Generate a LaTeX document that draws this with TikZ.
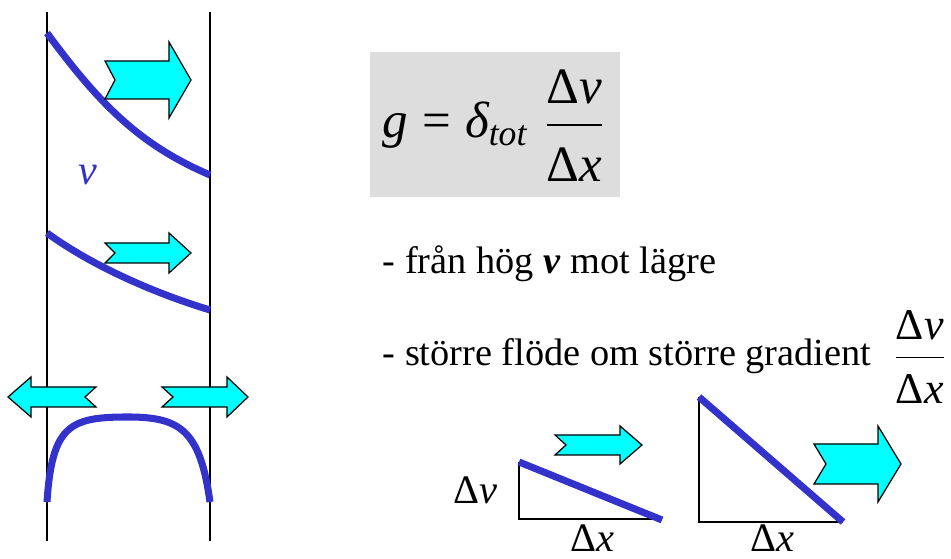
\documentclass[tikz,border=0pt]{standalone}
\usepackage{amsmath}
\usepackage{fontspec}
\setmainfont{Liberation Serif}
\usetikzlibrary{positioning}
\definecolor{curveblue}{RGB}{51,51,204}
\definecolor{flowcyan}{RGB}{0,255,255}
\definecolor{boxgray}{RGB}{221,221,221}
\tikzset{
  wallline/.style={line width=0.45pt, draw=black},
  vcurve/.style={line width=2pt, draw=curveblue},
  flowarrow/.style={draw=black, line width=0.35pt, fill=flowcyan, line join=miter},
  slidetext/.style={font=\fontsize{10.9}{13}\selectfont, inner sep=0pt, anchor=base west},
  deltalabel/.style={font=\fontsize{11.5}{13}\selectfont, inner sep=0pt},
  eqbox/.style={fill=boxgray, draw=none},
}
% notched block arrow: tail, notch, head base, tip, centre y, half body, half head
\newcommand{\fatarrow}[7]{%
  \draw[flowarrow] (#1,{#5-#6}) -- (#3,{#5-#6}) -- (#3,{#5-#7}) -- (#4,#5)
    -- (#3,{#5+#7}) -- (#3,{#5+#6}) -- (#1,{#5+#6}) -- (#2,#5) -- cycle;}

\begin{document}
\begin{tikzpicture}[x=0.01cm, y=-0.01cm]
  \useasboundingbox (0,0) rectangle (951,559);
  \clip (0,0) rectangle (951,559);

  % channel walls
  \draw[wallline] (47,12) -- (47,541);
  \draw[wallline] (210,12) -- (210,541);

  % velocity profiles
  \draw[vcurve] (47,33) .. controls (100,105) and (140,145) .. (210,175);
  \draw[vcurve] (47,233) .. controls (95,268) and (160,295) .. (210,310);
  \draw[vcurve] (47,502) .. controls (52,425) and (70,417) .. (128,417)
                .. controls (180,417) and (200,430) .. (210,502);
  \node[text=curveblue, font=\fontsize{12}{14}\selectfont\itshape] (vlabel) at (88,175) {v};

  % flux arrows
  \fatarrow{105}{115}{169}{191}{80}{19}{38}
  \fatarrow{105}{115}{169}{191}{253}{10}{20}
  \fatarrow{96}{85}{31}{8}{397}{10}{20}
  \fatarrow{162}{173}{227}{248}{397}{10}{20}

  % formula
  \fill[eqbox] (370,52) rectangle (620,197);
  \node[inner sep=0pt, anchor=base west, font=\fontsize{14.5}{16}\selectfont] (geq) at (382,138)
    {$\text{\itshape g} \mathrel{\text{=}} \text{\itshape δ}_{\text{\itshape tot}}\;\dfrac{\text{Δ\itshape v}}{\text{\rule{0pt}{14pt}Δ\itshape x}}$};

  % text lines
  \node[slidetext] (hogv) at (382,274) {- från hög \textbf{\textit{v}} mot lägre};
  \node[slidetext] (flode) at (382,366) {- större flöde om större gradient};
  \node[inner sep=0pt, anchor=base west, font=\fontsize{12.5}{15}\selectfont] (grad) at (891,368)
    {$\dfrac{\text{Δ\itshape v}}{\text{\rule{0pt}{11.3pt}Δ\itshape x}}$};

  % gradient triangles
  \draw[wallline] (519,462) -- (519,519) -- (662,519);
  \draw[vcurve] (519,462) -- (662,520);
  \draw[wallline] (699,397) -- (699,522) -- (843,522);
  \draw[vcurve] (699,397) -- (843,522);
  \node[deltalabel] (dvsmall) at (475,490) {Δ\textit{v}};
  \node[deltalabel, anchor=base] (dxsmall) at (592,552) {Δ\textit{x}};
  \node[deltalabel, anchor=base] (dxlarge) at (772,552) {Δ\textit{x}};
  \fatarrow{555}{566}{620}{642}{445}{10}{19}
  \fatarrow{814}{826}{878}{901}{464}{20}{38}
\end{tikzpicture}
\end{document}
